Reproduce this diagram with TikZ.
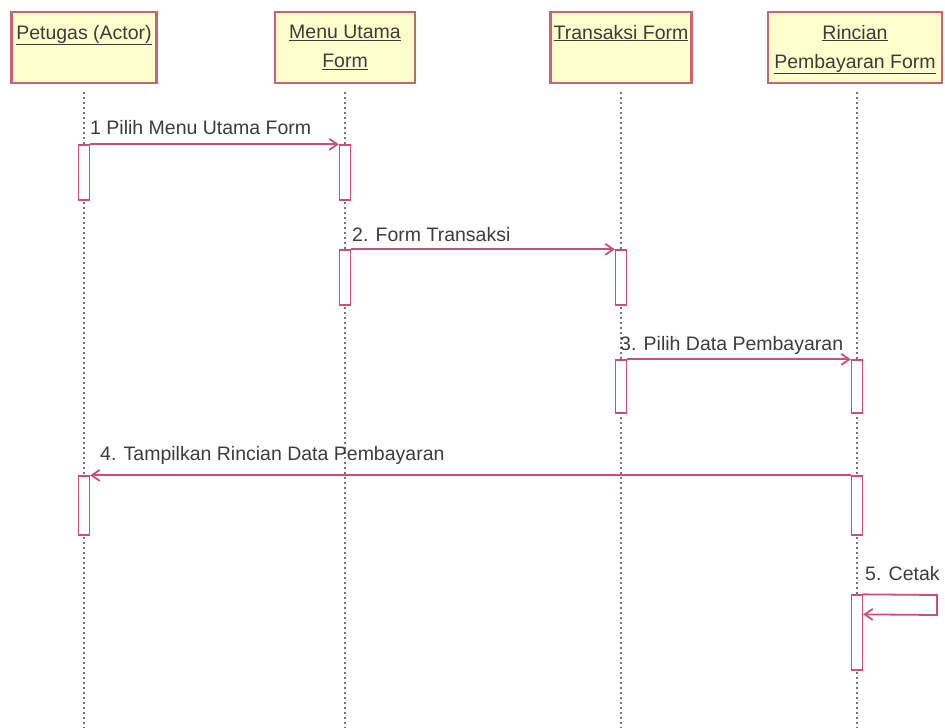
\documentclass[tikz,border=0pt]{standalone}
\usepackage{fontspec}
\setmainfont{Liberation Sans}
\usetikzlibrary{arrows.meta}
\definecolor{bord}{HTML}{C86478}
\definecolor{msg}{HTML}{C8507A}
\definecolor{fillY}{HTML}{FFFFCC}
\definecolor{txt}{HTML}{3C3C3C}
\begin{document}
\begin{tikzpicture}[x=1pt,y=-1pt,
  obj/.style={draw=bord, line width=2.6pt, fill=fillY, minimum height=71pt, inner sep=0pt},
  htxt/.style={text=txt, font=\fontsize{19.5}{29}\selectfont, align=center, anchor=north, inner sep=0pt},
  life/.style={draw=gray!90!black, line width=1.2pt, dash pattern=on 2pt off 3pt},
  act/.style={draw=msg, line width=1.3pt, fill=white, minimum width=11pt, inner sep=0pt},
  msgline/.style={draw=msg, line width=1.8pt, -{Straight Barb[length=8pt,width=11pt]}},
  mtxt/.style={text=txt, font=\fontsize{19.5}{23}\selectfont, anchor=base west, inner sep=0pt}]
\useasboundingbox (0,0) rectangle (945,728);
% objects
\node[obj, minimum width=145pt] (p) at (84,47.5) {};
\node[htxt] (pt) at ([yshift=-14]p.north) {\underline{Petugas (Actor)}};
\node[obj, minimum width=140pt] (m) at (345,47.5) {};
\node[htxt] (mt) at ([yshift=-14]m.north) {\underline{Menu Utama}\\\underline{Form}};
\node[obj, minimum width=141pt] (t) at (621,47.5) {};
\node[htxt] (tt) at ([yshift=-14]t.north) {\underline{Transaksi Form}};
\node[obj, minimum width=174pt] (r) at (855,47.5) {};
\node[htxt] (rt) at ([yshift=-14]r.north) {\underline{Rincian}\\\underline{Pembayaran Form}};
% lifelines
\coordinate (pe) at (84,728);
\coordinate (me) at (345,728);
\coordinate (te) at (621,728);
\coordinate (re) at (857,728);
\draw[life] ([yshift=-8]p.south) -- (pe);
\draw[life] ([yshift=-8]m.south) -- (me);
\draw[life] ([yshift=-8]t.south) -- (te);
\draw[life] ([yshift=-8]r.south -| re) -- (re);
% activations
\node[act, minimum height=55pt] (a1) at (84,172.5) {};
\node[act, minimum height=55pt] (a2) at (345,172.5) {};
\node[act, minimum height=55pt] (a3) at (345,277.5) {};
\node[act, minimum height=55pt] (a4) at (621,277.5) {};
\node[act, minimum height=53pt] (a5) at (621,386.5) {};
\node[act, minimum height=53pt] (a6) at (857,386.5) {};
\node[act, minimum height=59pt] (a7) at (857,505.5) {};
\node[act, minimum height=59pt] (a8) at (84,505.5) {};
\node[act, minimum height=75pt] (a9) at (857,632.5) {};
% messages
\draw[msgline] (a1.north east) -- (a2.north west);
\node[mtxt] at (90,134) {1 Pilih Menu Utama Form};
\draw[msgline] (a3.north east) -- (a4.north west);
\node[mtxt] at (352,241) {2. Form Transaksi};
\draw[msgline] (a5.north east) -- (a6.north west);
\node[mtxt] at (620,350) {3. Pilih Data Pembayaran};
\draw[msgline] (a7.north west) -- (a8.north east);
\node[mtxt] at (100,460) {4. Tampilkan Rincian Data Pembayaran};
\coordinate (lp1) at (937,595);
\coordinate (lp2) at (937,615);
\draw[msgline] (a9.north east) -- (lp1) -- (lp2) -- ([yshift=-20]a9.north east);
\node[mtxt] at (865,580) {5. Cetak};
\end{tikzpicture}
\end{document}
